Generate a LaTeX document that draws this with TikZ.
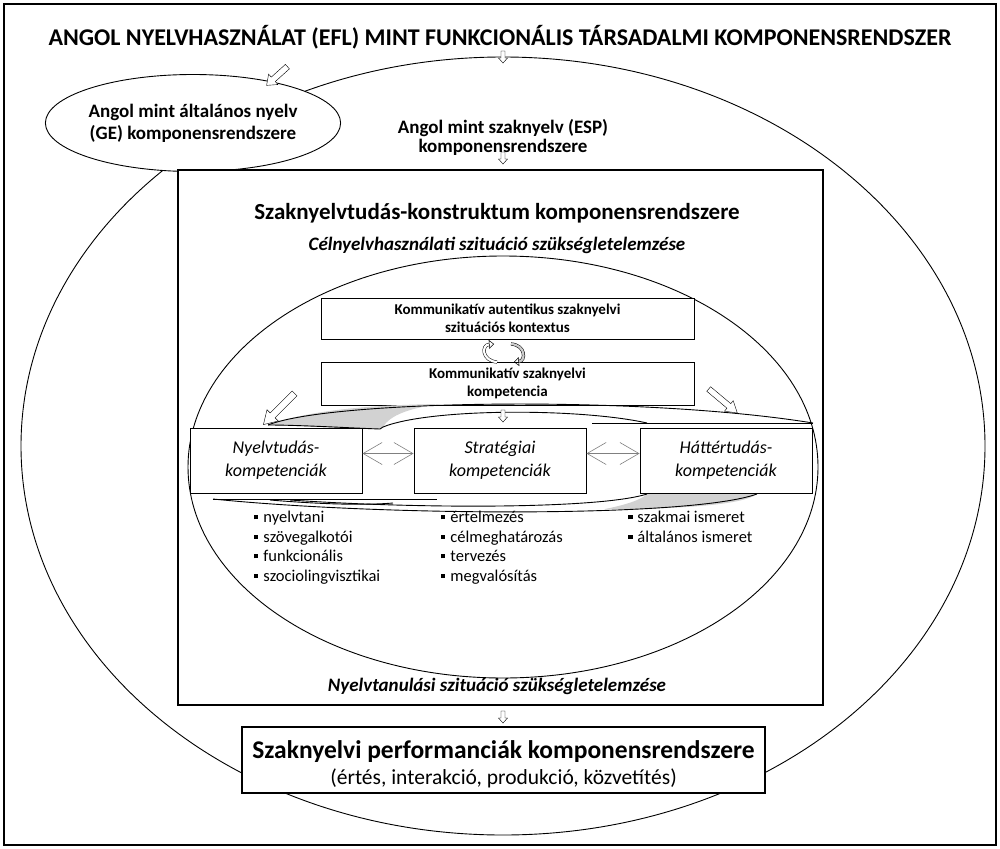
\documentclass[tikz,border=0pt]{standalone}
\usepackage{fontspec}
\setmainfont{Carlito}
\usetikzlibrary{shapes.geometric,arrows.meta}
\newcommand{\bull}{\rule[0.2em]{0.26em}{0.26em}\hspace{0.3em}}

\begin{document}
\begin{tikzpicture}[x=1pt,y=-1pt,
  dnarrow/.pic={\draw[thin, fill=white] (-2,-6) -- (2,-6) -- (2,1) -- (4.5,1) -- (0,6) -- (-4.5,1) -- (-2,1) -- cycle;},
  bigarrow/.pic={\draw[thin, fill=white] (-22,-3.5) -- (9,-3.5) -- (9,-8) -- (22,0) -- (9,8) -- (9,3.5) -- (-22,3.5) -- cycle;},
  midarrow/.pic={\draw[thin, fill=white] (-14,-3) -- (5,-3) -- (5,-7) -- (14,0) -- (5,7) -- (5,3) -- (-14,3) -- cycle;},
  plainbox/.style={draw, line width=1pt, fill=white, align=center, inner sep=0pt,
    font=\fontsize{15}{18}\selectfont\bfseries},
  compbox/.style={draw, line width=1pt, fill=white, align=center, minimum width=172pt, minimum height=65pt,
    inner sep=0pt, font=\fontsize{18}{23}\selectfont\itshape},
  bullets/.style={anchor=north west, align=left, inner sep=0pt, font=\fontsize{16.5}{19.5}\selectfont},
  both/.style={draw=gray, line width=1.5pt,
    {Straight Barb[length=19pt,width=22pt,line width=0.6pt]}-{Straight Barb[length=19pt,width=22pt,line width=0.6pt]}},
  ribbon/.style={line width=0.9pt},
  outline/.style={line width=0.9pt}]
  \useasboundingbox (0,0) rectangle (1000,848);
  \draw[line width=1.2pt] (4,4) rectangle (996,845);
  \node[font=\fontsize{24}{28}\selectfont\bfseries] (title) at (500,37)
    {ANGOL NYELVHASZNÁLAT (EFL) MINT FUNKCIONÁLIS TÁRSADALMI KOMPONENSRENDSZER};
  % outer system
  \draw[outline] (503,446) ellipse [x radius=482, y radius=389];
  \pic at (503,57) {dnarrow};
  \node[ellipse, draw, outline, fill=white, minimum width=288pt, minimum height=97pt, inner sep=0pt, align=center,
    font=\fontsize{19}{22}\selectfont\bfseries] (ge) at (193,123)
    {Angol mint általános nyelv\\(GE) komponensrendszere};
  \pic[rotate=222] at (277,76) {midarrow};
  \node[align=center, font=\fontsize{19}{19}\selectfont\bfseries] (esp) at (503,137)
    {Angol mint szaknyelv (ESP)\\komponensrendszere};
  \pic at (503,158) {dnarrow};
  % construct
  \node[draw, line width=2.4pt, fill=white, minimum width=645pt, minimum height=535pt] (construct) at (500.5,437.5) {};
  \node[font=\fontsize{23}{27}\selectfont\bfseries] (ctitle) at (497,213) {Szaknyelvtudás-konstruktum komponensrendszere};
  \node[font=\fontsize{19}{22}\selectfont\bfseries\itshape] (target) at (497,245) {Célnyelvhasználati szituáció szükségletelemzése};
  \draw[outline] (503,467) ellipse [x radius=315, y radius=211];
  \node[plainbox, minimum width=373pt, minimum height=41pt] (context) at (507.5,318.5)
    {Kommunikatív autentikus szaknyelvi\\szituációs kontextus};
  \node[plainbox, minimum width=373pt, minimum height=43pt] (kszk) at (507.5,383.5)
    {Kommunikatív szaknyelvi\\kompetencia};
  % circular arrows
  \draw[double=white, double distance=2.2pt, line width=0.5pt, -{Triangle[open, length=5pt, width=9pt]}]
    (497,362) .. controls (482,361) and (481,345) .. (494,344);
  \draw[double=gray!40, double distance=2.2pt, line width=0.5pt, -{Triangle[open, length=5pt, width=9pt]}]
    (511,344) .. controls (526,345) and (526,361) .. (514,362);
  % ribbons
  \fill[gray!35] (268,425) .. controls (310,410) and (370,405) .. (440,404)
    .. controls (410,408) and (390,415) .. (383,427) -- (380,429)
    .. controls (340,428) and (300,426) .. (268,425);
  \draw[ribbon] (268,425) .. controls (330,400) and (640,395) .. (813,423);
  \draw[ribbon] (383,427) .. controls (430,408) and (580,408) .. (647,423);
  \draw[ribbon] (268,425) .. controls (300,425) and (350,428) .. (380,429) -- (383,427);
  \draw[ribbon] (592,423) -- (813,423);
  \fill[gray!35] (647,494) -- (757,494) .. controls (745,503) and (700,509) .. (605,509)
    .. controls (620,506) and (640,501) .. (647,494);
  \draw[ribbon] (213,499) .. controls (380,516) and (690,518) .. (757,494);
  \draw[ribbon] (290,500) .. controls (420,509) and (600,509) .. (647,494);
  \draw[ribbon] (213,499) -- (437,499);
  \draw[ribbon] (270,500) .. controls (330,505) and (370,505) .. (393,503);
  % competences
  \node[compbox] (nyelv) at (276,460.5) {Nyelvtudás-\\kompetenciák};
  \node[compbox] (strat) at (500,460.5) {Stratégiai\\kompetenciák};
  \node[compbox] (hatter) at (726,460.5) {Háttértudás-\\kompetenciák};
  \pic[rotate=225] at (279,409) {bigarrow};
  \pic[rotate=-40, scale=0.85] at (723,401) {bigarrow};
  \pic at (503,416) {dnarrow};
  \draw[both] ([yshift=7pt]nyelv.east) -- ([yshift=7pt]strat.west);
  \draw[both] ([yshift=7pt]strat.east) -- ([yshift=7pt]hatter.west);
  \node[bullets] (nylist) at (254,511)
    {\bull nyelvtani\\\bull szövegalkotói\\\bull funkcionális\\\bull szociolingvisztikai};
  \node[bullets] (stlist) at (441,511)
    {\bull értelmezés\\\bull célmeghatározás\\\bull tervezés\\\bull megvalósítás};
  \node[bullets] (htlist) at (628,511)
    {\bull szakmai ismeret\\\bull általános ismeret};
  \node[font=\fontsize{19}{22}\selectfont\bfseries\itshape] (learn) at (497,686) {Nyelvtanulási szituáció szükségletelemzése};
  % performance
  \pic at (503,717) {dnarrow};
  \node[draw, line width=1.8pt, fill=white, minimum width=523pt, minimum height=66pt, inner sep=0pt] (perf) at (503.5,760) {};
  \node[font=\fontsize{25.5}{30}\selectfont\bfseries] (perftitle) at (503.5,752) {Szaknyelvi performanciák komponensrendszere};
  \node[font=\fontsize{21.5}{25}\selectfont] (perfsub) at (503.5,778) {(értés, interakció, produkció, közvetítés)};
\end{tikzpicture}
\end{document}
